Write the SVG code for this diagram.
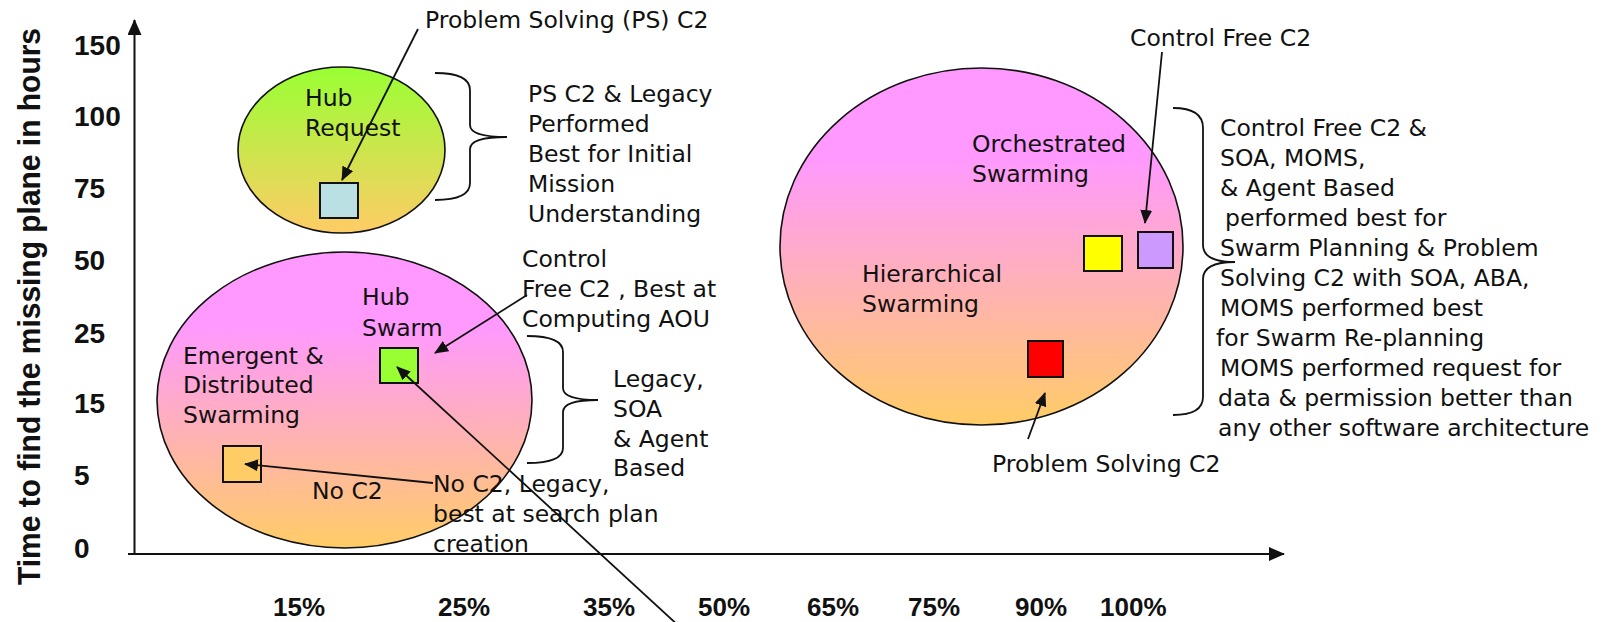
<svg xmlns="http://www.w3.org/2000/svg" width="1604" height="622" viewBox="0 0 1604 622">
  <style>
    .lbl { font-family: "DejaVu Sans", "Liberation Sans", sans-serif; font-size: 23.5px; fill: #111; }
    .tick { font-family: "Liberation Sans", Arial, sans-serif; font-weight: bold; font-size: 28px; fill: #111; }
    .xtick { font-family: "Liberation Sans", Arial, sans-serif; font-weight: bold; font-size: 26px; fill: #111; }
    .title { font-family: "Liberation Sans", Arial, sans-serif; font-weight: bold; font-size: 31px; fill: #111; }
    .zone { stroke: #111; stroke-width: 1.6; }
    .box { stroke: #111; stroke-width: 2; }
    .axis { stroke: #111; stroke-width: 2; fill: none; }
    .link { stroke: #111; stroke-width: 1.8; fill: none; }
    .brace { stroke: #111; stroke-width: 1.8; fill: none; }
  </style>
  <defs>
    <linearGradient id="greenFade" x1="0" y1="0" x2="0" y2="1">
      <stop offset="0" stop-color="#99FF33"/>
      <stop offset="1" stop-color="#FFCC66"/>
    </linearGradient>
    <linearGradient id="pinkFade" x1="0" y1="0" x2="0" y2="1">
      <stop offset="0" stop-color="#FF99FF"/>
      <stop offset="0.25" stop-color="#FF99FF"/>
      <stop offset="1" stop-color="#FFCC66"/>
    </linearGradient>
    <marker id="head" markerUnits="userSpaceOnUse" markerWidth="14" markerHeight="12" refX="13" refY="6" orient="auto">
      <path d="M0,0 L14,6 L0,12 z" fill="#111"/>
    </marker>
    <marker id="axisHead" markerUnits="userSpaceOnUse" markerWidth="16" markerHeight="14" refX="15" refY="7" orient="auto">
      <path d="M0,0 L16,7 L0,14 z" fill="#111"/>
    </marker>
  </defs>

  <rect width="1604" height="622" fill="#fff"/>

  <!-- axes -->
  <g id="axes">
    <path class="axis" d="M134.5,553 L134.5,20" marker-end="url(#axisHead)"/>
    <path class="axis" d="M128,554 L1284,554" marker-end="url(#axisHead)"/>
    <text class="title" transform="translate(40,585) rotate(-90)" textLength="557" lengthAdjust="spacingAndGlyphs">Time to find the missing plane in hours</text>
    <g id="y-ticks">
      <text class="tick" x="74" y="55">150</text>
      <text class="tick" x="74" y="126">100</text>
      <text class="tick" x="74" y="198">75</text>
      <text class="tick" x="74" y="270">50</text>
      <text class="tick" x="74" y="343">25</text>
      <text class="tick" x="74" y="413">15</text>
      <text class="tick" x="74" y="485">5</text>
      <text class="tick" x="74" y="558">0</text>
    </g>
    <g id="x-ticks">
      <text class="xtick" x="273" y="616">15%</text>
      <text class="xtick" x="438" y="616">25%</text>
      <text class="xtick" x="583" y="616">35%</text>
      <text class="xtick" x="698" y="616">50%</text>
      <text class="xtick" x="807" y="616">65%</text>
      <text class="xtick" x="908" y="616">75%</text>
      <text class="xtick" x="1015" y="616">90%</text>
      <text class="xtick" x="1100" y="616">100%</text>
    </g>
  </g>

  <!-- swarming zones -->
  <g id="zone-hub-request">
    <ellipse class="zone" cx="341.5" cy="150" rx="103.5" ry="83" fill="url(#greenFade)"/>
    <text class="lbl" x="305" y="106">Hub</text>
    <text class="lbl" x="305" y="136">Request</text>
  </g>
  <g id="zone-emergent">
    <ellipse class="zone" cx="344.5" cy="400" rx="187.5" ry="148" fill="url(#pinkFade)"/>
    <text class="lbl" x="183" y="364">Emergent &amp;</text>
    <text class="lbl" x="183" y="393">Distributed</text>
    <text class="lbl" x="183" y="423">Swarming</text>
    <text class="lbl" x="362" y="305">Hub</text>
    <text class="lbl" x="362" y="336">Swarm</text>
    <text class="lbl" x="312" y="499">No C2</text>
  </g>
  <g id="zone-orchestrated">
    <ellipse class="zone" cx="981.5" cy="246.5" rx="201.5" ry="178.5" fill="url(#pinkFade)"/>
    <text class="lbl" x="972" y="152">Orchestrated</text>
    <text class="lbl" x="972" y="182">Swarming</text>
    <text class="lbl" x="862" y="282">Hierarchical</text>
    <text class="lbl" x="862" y="312">Swarming</text>
  </g>

  <!-- result markers -->
  <g id="mark-ps-c2"><rect class="box" x="320" y="183" width="38" height="35" fill="#BBE0E3"/></g>
  <g id="mark-hub-swarm"><rect class="box" x="380" y="348" width="38" height="35" fill="#99FF33"/></g>
  <g id="mark-no-c2"><rect class="box" x="223" y="446" width="38" height="36" fill="#FFCC66"/></g>
  <g id="mark-yellow"><rect class="box" x="1084" y="236" width="38" height="35" fill="#FFFF00"/></g>
  <g id="mark-control-free"><rect class="box" x="1138" y="232" width="35" height="36" fill="#CC99FF"/></g>
  <g id="mark-problem-solving"><rect class="box" x="1028" y="341" width="35" height="36" fill="#FF0000"/></g>

  <!-- callout labels -->
  <g id="note-ps-c2"><text class="lbl" x="425" y="28">Problem Solving (PS) C2</text></g>
  <g id="note-initial-mission">
    <text class="lbl" x="528" y="102">PS C2 &amp; Legacy</text>
    <text class="lbl" x="528" y="132">Performed</text>
    <text class="lbl" x="528" y="162">Best for Initial</text>
    <text class="lbl" x="528" y="192">Mission</text>
    <text class="lbl" x="528" y="222">Understanding</text>
  </g>
  <g id="note-aou">
    <text class="lbl" x="522" y="267">Control</text>
    <text class="lbl" x="522" y="297">Free C2 , Best at</text>
    <text class="lbl" x="522" y="327">Computing AOU</text>
  </g>
  <g id="note-legacy-soa">
    <text class="lbl" x="613" y="387">Legacy,</text>
    <text class="lbl" x="613" y="417">SOA</text>
    <text class="lbl" x="613" y="447">&amp; Agent</text>
    <text class="lbl" x="613" y="476">Based</text>
  </g>
  <g id="note-search-plan">
    <text class="lbl" x="433" y="492">No C2, Legacy,</text>
    <text class="lbl" x="433" y="522">best at search plan</text>
    <text class="lbl" x="433" y="552">creation</text>
  </g>
  <g id="note-control-free"><text class="lbl" x="1130" y="46">Control Free C2</text></g>
  <g id="note-problem-solving"><text class="lbl" x="992" y="472">Problem Solving C2</text></g>
  <g id="note-swarm-planning">
    <text class="lbl" x="1220" y="136">Control Free C2 &amp;</text>
    <text class="lbl" x="1220" y="166">SOA, MOMS,</text>
    <text class="lbl" x="1220" y="196">&amp; Agent Based</text>
    <text class="lbl" x="1225" y="226">performed best for</text>
    <text class="lbl" x="1220" y="256">Swarm Planning &amp; Problem</text>
    <text class="lbl" x="1220" y="286">Solving C2 with SOA, ABA,</text>
    <text class="lbl" x="1220" y="316">MOMS performed best</text>
    <text class="lbl" x="1216" y="346">for Swarm Re-planning</text>
    <text class="lbl" x="1220" y="376">MOMS performed request for</text>
    <text class="lbl" x="1218" y="406">data &amp; permission better than</text>
    <text class="lbl" x="1218" y="436">any other software architecture</text>
  </g>

  <!-- braces -->
  <g id="braces">
    <path class="brace" d="M435,73 Q470,73 470,90 L470,125 Q470,137 507,137 Q470,137 470,149 L470,183 Q470,200 435,200"/>
    <path class="brace" d="M527,336 Q563,336 563,352 L563,388 Q563,400 598,400 Q563,400 563,412 L563,448 Q563,463 527,463"/>
    <path class="brace" d="M1173,108 Q1203,108 1203,128 L1203,245 Q1203,262 1235,262 Q1203,262 1203,279 L1203,397 Q1203,415 1173,415"/>
  </g>

  <!-- connectors -->
  <g id="connectors">
    <path class="link" d="M418,29 L342,180" marker-end="url(#head)"/>
    <path class="link" d="M527,295 L435,353" marker-end="url(#head)"/>
    <path class="link" d="M681,628 L397,367" marker-end="url(#head)"/>
    <path class="link" d="M433,483 L245,464" marker-end="url(#head)"/>
    <path class="link" d="M1162,52 L1145,223" marker-end="url(#head)"/>
    <path class="link" d="M1028,439 L1045,393" marker-end="url(#head)"/>
  </g>
</svg>
